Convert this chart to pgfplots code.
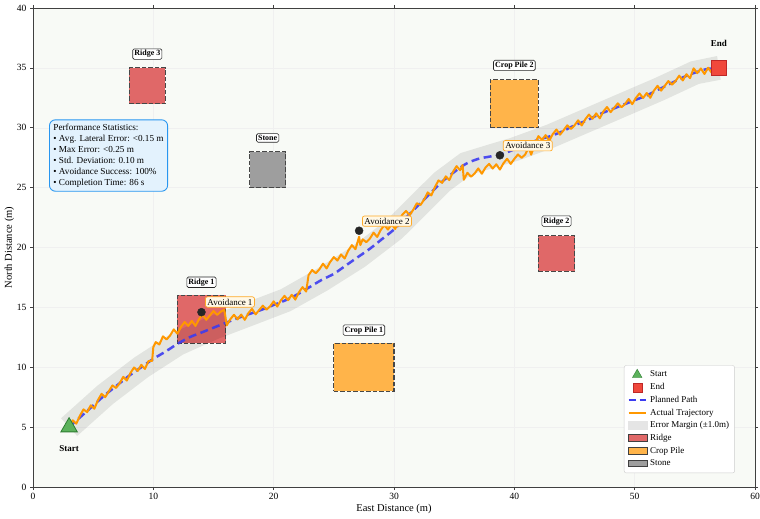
\documentclass[border=0pt]{standalone}
\usepackage{fontspec}
\setmainfont{Liberation Serif}
\usepackage{pgfplots}
\pgfplotsset{compat=1.18}
\definecolor{bgc}{RGB}{248,250,246}
\definecolor{ridge}{RGB}{224,104,104}
\definecolor{crop}{RGB}{255,180,74}
\definecolor{stone}{RGB}{158,158,158}
\definecolor{traj}{RGB}{255,152,0}
\definecolor{plan}{RGB}{60,60,240}
\definecolor{startg}{RGB}{92,178,92}
\definecolor{startge}{RGB}{46,125,50}
\definecolor{endr}{RGB}{240,72,60}
\definecolor{endre}{RGB}{190,40,40}
\definecolor{statfill}{RGB}{227,242,253}
\definecolor{statdraw}{RGB}{40,150,240}
\definecolor{avfill}{RGB}{255,248,230}
\definecolor{avdraw}{RGB}{255,170,40}
\begin{document}
\begin{tikzpicture}
\begin{axis}[
  scale only axis, width=722pt, height=479pt,
  xmin=0, xmax=60, ymin=0, ymax=40,
  xtick={0,10,...,60}, ytick={0,5,...,40},
  /pgf/number format/assume math mode=true,
  tick label style={font=\fontsize{9.5}{10}\selectfont},
  label style={font=\fontsize{10.5}{12}\selectfont},
  xlabel={East Distance (m)}, ylabel={North Distance (m)},
  xlabel style={yshift=3pt}, ylabel style={yshift=-4pt},
  tick align=outside, major tick length=3pt,
  tick style={black!75, line width=0.6pt},
  axis line style={black!75, line width=0.9pt},
  grid=major, major grid style={black!6, line width=0.4pt},
  axis background/.style={fill=bgc},
  legend style={at={(rel axis cs:0.972,0.029)}, anchor=south east,
    font=\fontsize{9}{10.5}\selectfont, draw=black!20, rounded corners=2pt,
    fill=white, row sep=1pt, inner sep=3.5pt},
  legend cell align=left,
  clip=false,
]
% obstacles
\tikzset{obst/.style={draw=black!72, dash pattern=on 4.5pt off 2pt, line width=1.2pt}}
\addplot[forget plot, fill=ridge, obst] coordinates {(8,32) (11,32) (11,35) (8,35)} -- cycle;
\addplot[forget plot, fill=ridge, obst] coordinates {(12,12) (16,12) (16,16) (12,16)} -- cycle;
\addplot[forget plot, fill=ridge, obst] coordinates {(42,18) (45,18) (45,21) (42,21)} -- cycle;
\addplot[forget plot, fill=crop, obst] coordinates {(25,8) (30,8) (30,12) (25,12)} -- cycle;
\addplot[forget plot, fill=crop, obst] coordinates {(38,30) (42,30) (42,34) (38,34)} -- cycle;
\addplot[forget plot, fill=stone, obst] coordinates {(18,25) (21,25) (21,28) (18,28)} -- cycle;
% error band
\addplot[forget plot, fill=black, fill opacity=0.085, draw=none] coordinates {
(2.33,5.74) (5.35,8.46) (8.43,10.82) (11.52,12.83) (14.63,14.23) (17.65,15.39) (20.59,16.51) (23.52,18.18) (26.43,20.02) (29.33,22.24) (31.29,24.21) (33.33,26.24) (35.52,27.88) (37.76,28.57) (39.63,29.13) (42.67,30.24) (45.59,31.51) (48.63,32.83) (51.55,34.09) (54.67,35.54) (56.85,35.99)
(57.15,34.01) (55.33,33.66) (52.45,32.31) (49.37,30.97) (46.41,29.69) (43.33,28.36) (40.37,27.27) (38.24,26.63) (36.48,26.12) (34.67,24.76) (32.71,22.79) (30.67,20.76) (27.57,18.38) (24.48,16.42) (21.41,14.69) (18.35,13.51) (15.37,12.37) (12.48,11.07) (9.57,9.18) (6.65,6.94) (3.67,4.26)
} -- cycle;
% planned path
\addplot[forget plot, plan, line width=2.5pt, dash pattern=on 8pt off 4.5pt, smooth, tension=0.5, opacity=0.9] coordinates {
(3,5.0) (4,5.9) (5,6.8) (6,7.7) (7,8.5) (8,9.3) (9,10.0) (10,10.7) (11,11.3) (12,11.95) (13,12.5) (14,12.9) (15,13.3) (16,13.7) (17,14.1) (18,14.45) (19,14.8) (20,15.2) (21,15.6) (22,16.1) (23,16.7) (24,17.3) (25,17.8) (26,18.5) (27,19.2) (28,19.9) (29,20.7) (30,21.5) (31,22.5) (32,23.5) (33,24.5) (34,25.5) (35,26.3) (36,27.0) (37,27.4) (38,27.6) (39,27.8) (40,28.2) (41,28.6) (42,29.0) (43,29.3) (44,29.7) (45,30.2) (46,30.6) (47,31.1) (48,31.5) (49,31.9) (50,32.3) (51,32.7) (52,33.2) (53,33.7) (54,34.2) (55,34.6) (56,34.9) (57,35.0)};
% actual trajectory
\addplot[forget plot, traj, line width=2pt, line join=round] coordinates {
(3.0,5.00)(3.3,5.57)(3.6,5.29)(3.9,5.96)(4.2,6.48)(4.5,6.25)(4.8,6.82)(5.1,6.54)(5.4,7.26)(5.7,7.78)(6.0,7.50)(6.3,7.99)(6.6,8.48)(6.9,8.27)(7.2,8.66)(7.5,9.20)(7.8,8.89)(8.1,9.52)(8.4,9.98)(8.7,9.69)(9.0,10.20)(9.3,9.86)(9.6,10.52)(9.9,10.53)
(10.0,11.7)(10.2,12.1)(10.5,11.9)(10.8,12.58)(11.1,12.32)(11.4,12.66)(11.7,13.16)(12.0,12.80)(12.3,13.37)(12.6,13.78)(12.9,13.45)(13.2,13.88)(13.5,13.45)(13.8,14.02)(14.1,14.39)(14.4,13.96)(14.7,14.33)(15.0,14.70)(15.3,14.37)(15.6,14.64)(15.9,14.8)
(16.1,13.5)(16.4,14.01)(16.7,14.38)(17.0,14.0)(17.3,14.4)(17.6,13.96)(17.9,14.52)(18.2,14.87)(18.5,14.42)(18.8,14.78)(19.1,15.14)(19.4,14.81)(19.7,15.08)(20.0,15.5)(20.3,15.07)(20.6,15.59)(20.9,15.96)(21.2,15.6)(21.5,16.05)(21.8,15.65)(22.1,16.26)(22.4,16.69)(22.7,16.32)
(22.9,17.69)(23.2,18.12)(23.5,17.85)(23.8,18.18)(24.1,18.65)(24.4,18.25)(24.7,18.8)(25.0,19.2)(25.3,18.91)(25.6,19.42)(25.9,19.08)(26.2,19.74)(26.5,20.2)(26.8,19.86)(27.1,20.9)(27.2,20.2)(27.4,20.68)(27.7,20.44)(28.0,20.75)(28.3,21.24)(28.6,20.88)(28.9,21.47)(29.2,21.86)(29.5,21.5)(29.8,21.94)(30.1,21.55)(30.4,22.25)(30.7,22.75)(31.0,23.05)(31.3,22.7)(31.6,23.15)(31.9,23.7)(32.2,23.55)(32.5,24.0)(32.8,24.6)(33.1,24.35)(33.4,25.05)(33.7,25.6)(34.0,25.4)(34.3,25.94)(34.6,25.63)(34.9,26.32)(35.2,26.79)(35.5,26.45)(35.7,26.89)
(35.8,25.66)(36.1,26.24)(36.4,25.91)(36.7,26.18)(37.0,26.6)(37.3,26.16)(37.6,26.67)(37.9,26.98)(38.2,26.59)(38.5,26.95)(38.8,26.51)(39.1,27.04)(39.4,27.41)(39.7,26.98)(40.0,27.4)(40.3,27.77)(40.6,27.49)(40.9,27.76)(41.2,28.35)(41.4,27.75)(41.7,28.63)(42.0,29.3)(42.3,28.99)(42.6,29.38)(42.9,28.92)(43.2,29.48)(43.5,29.85)(43.8,29.42)(44.1,29.8)(44.4,30.2)(44.7,29.9)(45.0,30.2)(45.3,30.62)(45.6,30.19)(45.9,30.71)(46.2,31.1)(46.5,30.75)(46.8,31.2)(47.1,30.79)(47.4,31.36)(47.7,31.73)(48.0,31.3)(48.3,31.67)(48.6,32.04)(48.9,31.71)(49.2,31.98)(49.5,32.4)(49.8,31.97)(50.1,32.49)(50.4,32.86)(50.7,32.48)(51.0,32.9)(51.3,32.5)(51.6,33.1)(51.9,33.5)(52.2,33.1)(52.5,33.5)(52.8,33.9)(53.1,33.6)(53.4,33.9)(53.7,34.35)(54.0,33.95)(54.3,34.47)(54.6,34.14)(54.9,34.96)(55.2,34.56)(55.5,34.95)(55.8,34.49)(56.1,35.01)(56.4,34.59)(56.7,35.32)(57.0,35.05)};
% avoidance markers
\addplot[forget plot, only marks, mark=*, mark size=4pt, mark options={fill=black!85, draw=black!85}] coordinates {(14,14.6) (27.1,21.4) (38.8,27.7)};
% start / end
\addplot[forget plot, only marks, mark=triangle*, mark size=9.5pt, mark options={fill=startg, draw=startge, line width=0.8pt}] coordinates {(3,5)};
\addplot[forget plot, only marks, mark=square*, mark size=7.5pt, mark options={fill=endr, draw=endre, line width=0.8pt}] coordinates {(57,35)};
% labels
\tikzset{obl/.style={font=\fontsize{8}{9}\selectfont\bfseries, draw=black!85, fill=white, rounded corners=1.5pt, inner sep=1.6pt, line width=0.6pt},
 avl/.style={font=\fontsize{9}{10}\selectfont, draw=avdraw, fill=avfill, rounded corners=2pt, inner sep=2pt, line width=0.7pt, anchor=west}}
\node[obl] at (axis cs:9.5,36.15) {Ridge 3};
\node[obl] at (axis cs:19.5,29.15) {Stone};
\node[obl] at (axis cs:14,17.1) {Ridge 1};
\node[obl] at (axis cs:27.5,13.1) {Crop Pile 1};
\node[obl] at (axis cs:43.5,22.2) {Ridge 2};
\node[obl] at (axis cs:40,35.2) {Crop Pile 2};
\node[avl] at (axis cs:14.3,15.45) {Avoidance 1};
\node[avl] at (axis cs:27.35,22.2) {Avoidance 2};
\node[avl] at (axis cs:39.05,28.5) {Avoidance 3};
\node[font=\fontsize{9}{10}\selectfont\bfseries] at (axis cs:3,3.25) {Start};
\node[font=\fontsize{9}{10}\selectfont\bfseries] at (axis cs:57,37.0) {End};
\node[anchor=north west, draw=statdraw, fill=statfill, rounded corners=6pt, line width=0.9pt, align=left, inner sep=4pt, font=\fontsize{9.2}{11}\selectfont] at (axis cs:1.33,30.7) {Performance Statistics:\\ • Avg. Lateral Error: <0.15 m\\ • Max Error: <0.25 m\\ • Std. Deviation: 0.10 m\\ • Avoidance Success: 100\%\\ • Completion Time: 86 s};
% legend
\addlegendimage{only marks, mark=triangle*, mark size=5.5pt, mark options={fill=startg, draw=startge}}
\addlegendentry{Start}
\addlegendimage{only marks, mark=square*, mark size=4.5pt, mark options={fill=endr, draw=endre}}
\addlegendentry{End}
\addlegendimage{plan, line width=2pt, dash pattern=on 7pt off 4pt, sharp corners}
\addlegendentry{Planned Path}
\addlegendimage{traj, line width=2pt, sharp corners}
\addlegendentry{Actual Trajectory}
\addlegendimage{legend image code/.code={\fill[black!10, sharp corners] (0pt,-3.5pt) rectangle (19pt,4pt);}}
\addlegendentry{Error Margin (±1.0m)}
\addlegendimage{legend image code/.code={\draw[fill=ridge, draw=black!75, line width=0.8pt, sharp corners] (0pt,-3pt) rectangle (19pt,3.5pt);}}
\addlegendentry{Ridge}
\addlegendimage{legend image code/.code={\draw[fill=crop, draw=black!75, line width=0.8pt, sharp corners] (0pt,-3pt) rectangle (19pt,3.5pt);}}
\addlegendentry{Crop Pile}
\addlegendimage{legend image code/.code={\draw[fill=stone, draw=black!75, line width=0.8pt, sharp corners] (0pt,-3pt) rectangle (19pt,3.5pt);}}
\addlegendentry{Stone}
\end{axis}
\pgfresetboundingbox
\path[use as bounding box] ([shift={(-33pt,-31pt)}]current axis.south west) rectangle ([shift={(5pt,8pt)}]current axis.north east);
\end{tikzpicture}
\end{document}
